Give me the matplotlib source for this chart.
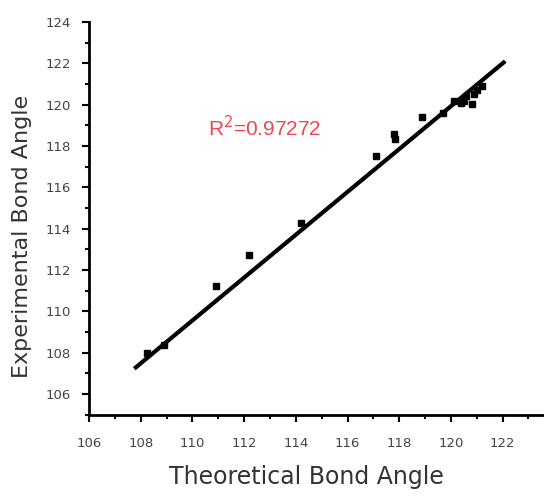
import matplotlib.pyplot as plt
from matplotlib.ticker import MultipleLocator

# bond angles
theoretical = [108.25, 108.9, 110.9, 112.2, 114.2, 117.1, 117.8, 117.85, 118.9, 119.7,
               120.1, 120.4, 120.6, 120.8, 121.0, 121.2, 120.5, 120.9]
experimental = [108.0, 108.35, 111.25, 112.75, 114.3, 117.5, 118.6, 118.35, 119.4, 119.6,
                120.2, 120.1, 120.4, 120.05, 120.7, 120.9, 120.2, 120.5]

# fitted line end points
fit_x = [107.75, 122.1]
fit_slope = 1.037
fit_intercept = -4.51
r2_text = "R$^2$=0.97272"

fig = plt.figure(figsize=(5.44, 4.97), dpi=100)
ax = fig.add_axes([0.1636, 0.1656, 0.8364, 0.79])

fit_y = [fit_slope * x + fit_intercept for x in fit_x]
ax.plot(fit_x, fit_y, color='black', lw=3, solid_capstyle='butt')
ax.plot(theoretical, experimental, 's', color='black', markersize=4)

ax.text(110.6, 118.9, r2_text, color='#f04552', fontsize=15, fontfamily='Liberation Sans',
        va='center', ha='left')

ax.set_xlim(106, 123.6)
ax.set_ylim(105, 124)
ax.xaxis.set_major_locator(MultipleLocator(2))
ax.xaxis.set_minor_locator(MultipleLocator(1))
ax.yaxis.set_major_locator(MultipleLocator(2))
ax.yaxis.set_minor_locator(MultipleLocator(1))
ax.set_yticks(range(106, 125, 2))

ax.spines['top'].set_visible(False)
ax.spines['right'].set_visible(False)
ax.spines['left'].set_linewidth(2)
ax.spines['bottom'].set_linewidth(2)
ax.tick_params(which='major', length=5, width=1.5, labelsize=9.5, labelcolor='#444444')
ax.tick_params(axis='x', which='major', pad=11)
ax.tick_params(axis='y', which='major', pad=8)
ax.tick_params(which='minor', length=3, width=1.5)

ax.set_xlabel('Theoretical Bond Angle', fontsize=17, color='#333333')
ax.set_ylabel('Experimental Bond Angle', fontsize=16, color='#333333')
ax.xaxis.set_label_coords(0.477, -0.128)
ax.yaxis.set_label_coords(-0.125, 0.455)

fig.savefig('out.png', dpi=100)
